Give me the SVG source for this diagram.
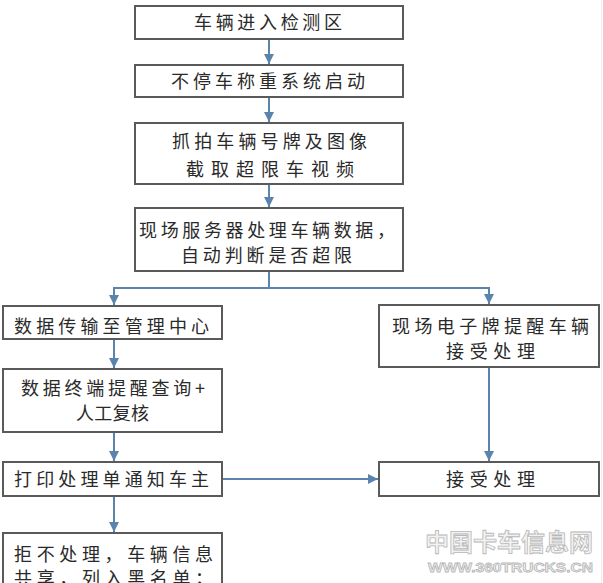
<svg xmlns="http://www.w3.org/2000/svg" width="603" height="583" viewBox="0 0 603 583">
<defs>
<style>
.box{fill:#fff;stroke:#5a5a5a;stroke-width:2}
.t{font-family:"Noto Sans CJK SC","Noto Sans",sans-serif;font-size:18px;fill:#2a2a2a}
.c{fill:none;stroke:#5b84ad;stroke-width:2}
.wm{font-family:"Liberation Sans","Noto Sans CJK SC",sans-serif;font-weight:bold;fill:#f2f2f2;stroke:#b8b8b8;stroke-width:0.8}
</style>
<marker id="ah" viewBox="0 0 10 10" refX="10" refY="5" markerWidth="5" markerHeight="5" orient="auto" markerUnits="strokeWidth">
<path d="M0,0 L10,5 L0,10 z" fill="#5b84ad"/>
</marker>
</defs>
<rect width="603" height="583" fill="#fff"/>
<line x1="601.5" y1="0" x2="601.5" y2="583" stroke="#eeeeee" stroke-width="1"/>
<g id="connectors">
<line class="c" x1="269" y1="39" x2="269" y2="64" marker-end="url(#ah)"/>
<line class="c" x1="269" y1="97" x2="269" y2="122" marker-end="url(#ah)"/>
<line class="c" x1="269" y1="184" x2="269" y2="207" marker-end="url(#ah)"/>
<polyline class="c" points="269,271 269,288 114,288 114,305" marker-end="url(#ah)"/>
<polyline class="c" points="269,288 489,288 489,304" marker-end="url(#ah)"/>
<line class="c" x1="114" y1="339" x2="114" y2="368" marker-end="url(#ah)"/>
<line class="c" x1="114" y1="432" x2="114" y2="461" marker-end="url(#ah)"/>
<line class="c" x1="114" y1="496" x2="114" y2="532" marker-end="url(#ah)"/>
<line class="c" x1="489" y1="367" x2="489" y2="461" marker-end="url(#ah)"/>
<line class="c" x1="222" y1="479" x2="378" y2="479" marker-end="url(#ah)"/>
</g>
<g id="n1"><rect class="box" x="135" y="6" width="268" height="33"/>
<text class="t" x="194" y="29" textLength="148">车辆进入检测区</text></g>
<g id="n2"><rect class="box" x="135" y="65" width="268" height="32"/>
<text class="t" x="171" y="88" textLength="194">不停车称重系统启动</text></g>
<g id="n3"><rect class="box" x="135" y="123" width="268" height="61"/>
<text class="t" x="172" y="148" textLength="195">抓拍车辆号牌及图像</text>
<text class="t" x="186" y="176" textLength="168">截取超限车视频</text></g>
<g id="n4"><rect class="box" x="135" y="208" width="268" height="63"/>
<text class="t" x="139" y="237" textLength="256">现场服务器处理车辆数据，</text>
<text class="t" x="181" y="262" textLength="171">自动判断是否超限</text></g>
<g id="n5"><rect class="box" x="3" y="306" width="219" height="33"/>
<text class="t" x="14" y="333" textLength="195">数据传输至管理中心</text></g>
<g id="n6"><rect class="box" x="379" y="305" width="220" height="62"/>
<text class="t" x="392" y="333" textLength="197">现场电子牌提醒车辆</text>
<text class="t" x="446" y="358" textLength="89">接受处理</text></g>
<g id="n7"><rect class="box" x="3" y="369" width="219" height="63"/>
<text class="t" x="21" y="395" textLength="184">数据终端提醒查询+</text>
<text class="t" x="76" y="420" textLength="73">人工复核</text></g>
<g id="n8"><rect class="box" x="3" y="462" width="219" height="34"/>
<text class="t" x="14" y="486" textLength="195">打印处理单通知车主</text></g>
<g id="n9"><rect class="box" x="3" y="533" width="219" height="60"/>
<text class="t" x="14" y="561" textLength="199">拒不处理，车辆信息</text>
<text class="t" x="14" y="585" textLength="199">共享，列入黑名单；</text></g>
<g id="n10"><rect class="box" x="379" y="462" width="220" height="34"/>
<text class="t" x="446" y="486" textLength="89">接受处理</text></g>
<text class="wm" x="425" y="551" font-size="24" textLength="168" lengthAdjust="spacingAndGlyphs">中国卡车信息网</text>
<text class="wm" x="428" y="572" font-size="13" textLength="165" lengthAdjust="spacingAndGlyphs">WWW.360TRUCKS.CN</text>
</svg>
